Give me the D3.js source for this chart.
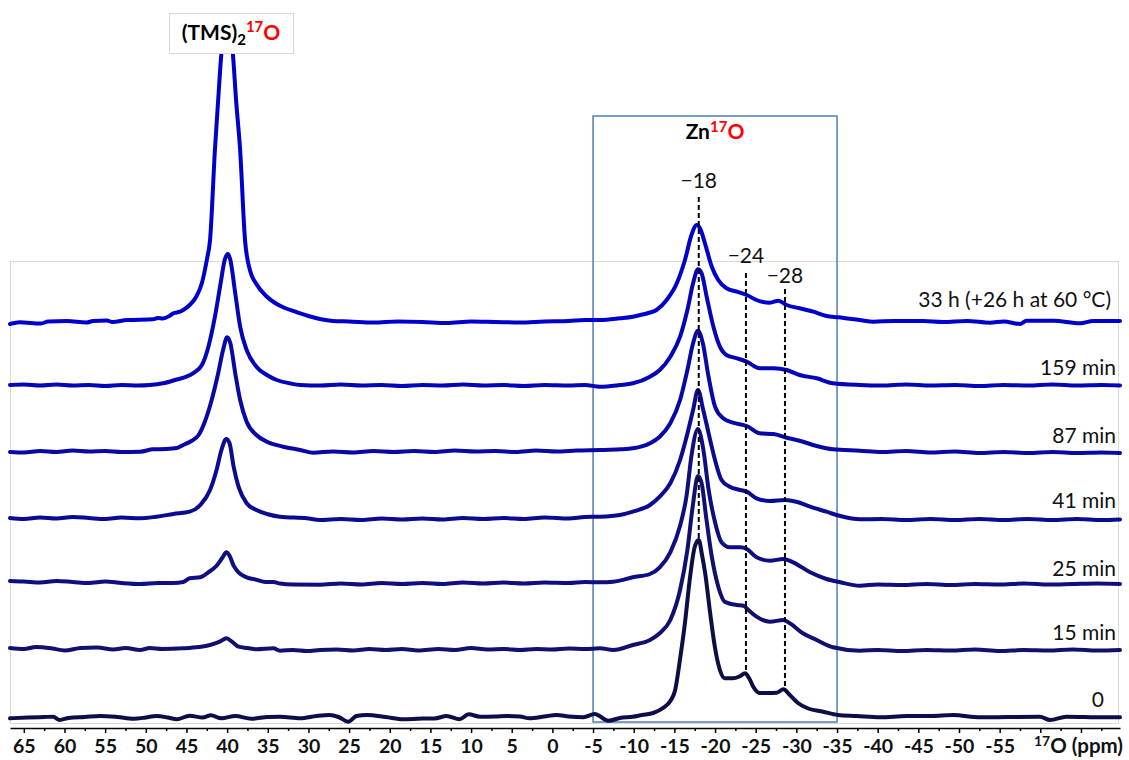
<!DOCTYPE html>
<html>
<head>
<meta charset="utf-8">
<script src="https://cdn.jsdelivr.net/npm/d3@7"></script>
<style>
  body { margin: 0; background: #fff; }
  svg { display: block; font-family: Lato, "Open Sans", sans-serif; }
</style>
</head>
<body>
<div id="chart"></div>
<script>
// 17O NMR spectra, stacked; each trace is [ppm, intensity]
const traceNames = ["0", "15 min", "25 min", "41 min", "87 min", "159 min", "33 h (+26 h at 60 °C)"];
const traceOffsets = [0, 69, 135, 199, 265, 332, 393];
const traceColors = ["#0d0d47", "#101070", "#0e0e80", "#0b0b92", "#0808a6", "#0404b9", "#0000cc"];

const trace0 = [[66.7,-1.3],[64.5,-0.5],[62.5,0],[61.4,0.3],[60.6,-3],[59.5,-1],[57.5,0],[55.6,1],[53.5,0],[51.5,-1.7],[50,-0.5],[48.7,1],[47.3,-0.5],[46.2,-2.3],[44.6,1.3],[43,-0.5],[42,1.7],[40.7,-1.3],[39,1],[37,-1.7],[35,0],[33.5,0.3],[31,-1.3],[29,1],[27.4,2],[26.3,0],[25.1,-4.7],[24.1,1],[22.8,2],[20.5,0],[18.3,-2.3],[16,-1.5],[14.5,-1.5],[13,1],[11.4,-2.3],[10.3,2.7],[8.9,0.3],[7,0.5],[5.6,1],[4,0.5],[2.8,-1.3],[1,0.5],[-0.5,2],[-2,0.5],[-3.8,-0.3],[-5.2,3],[-6.9,-3.7],[-8.3,-1],[-9.9,0.3],[-11,2],[-12.4,4],[-13.6,9],[-14.5,16],[-15.1,27],[-15.7,58],[-16.3,94],[-16.9,138],[-17.5,170],[-18.0,177],[-18.4,162],[-18.8,143],[-19.4,104],[-20.0,69],[-20.6,47],[-21.2,38.7],[-22.2,38.7],[-23.0,40.5],[-23.7,43.7],[-24.2,38.7],[-24.7,30.3],[-25.5,24],[-26.5,24],[-27.6,24.3],[-28.4,27.7],[-29.2,22],[-30.2,14],[-31.3,9],[-33.3,5.3],[-35.1,2],[-37.4,1],[-40.3,-0.3],[-43.6,1],[-46.5,1],[-49.3,2],[-52.6,-0.3],[-56,0],[-59.95,0.3],[-61.2,-3],[-63.2,0.3],[-67.7,-0.3],[-69.8,-0.3]];

const trace15 = [[66.7,0],[65,-1],[63.5,1],[61.5,-0.5],[60,-2.5],[58,0],[56,0.5],[54,-1.5],[52.5,0],[50.7,-2],[49.5,0],[48,-1],[45.4,-0.3],[43.5,1],[42.1,3],[40.9,6.3],[40.06,9.7],[39.4,6.3],[38.6,1.3],[37.5,0],[36.4,-1.3],[34.3,-0.3],[33.5,-2.7],[31.9,-2],[30.2,-3],[28.6,-2],[26.5,-1.5],[24.5,-2.5],[22.5,-1],[20.5,-2],[18.5,-1],[16.5,-2.5],[14,-1],[12,-2],[10,0],[8,-1.5],[6,-1],[4,-2],[2,-1],[0,-1.5],[-2,-0.5],[-4,-1],[-5.85,-0.3],[-7.5,-2],[-9.9,3],[-12.0,8],[-13.2,14.7],[-14.5,28],[-15.7,58],[-16.6,98],[-17.25,141.3],[-17.9,172],[-18.35,164.7],[-18.9,131.3],[-19.6,91.3],[-20.4,61.3],[-21.2,46.3],[-22.7,43],[-23.5,42.3],[-24.1,38],[-25.1,31.3],[-26.75,26.3],[-28.4,28],[-29.2,24.7],[-30.8,14.7],[-32.5,8],[-34.5,0.7],[-37.8,-2.7],[-40,-2],[-43,-3],[-46,-2],[-49,-2.5],[-52,-1.5],[-55,-3],[-58,-2],[-61,-2.5],[-64,-1.5],[-67,-2.5],[-69.8,-2]];

const trace25 = [[66.7,1],[65,0.5],[63,-0.5],[61,1],[59,0],[57,-1],[55,0.5],[53,-1],[50.7,-2],[48.5,-1],[46.6,-1],[45.4,0],[44.6,3.7],[43.3,4.7],[42.3,9.7],[41.3,16.3],[40.55,24.7],[40.1,29.7],[39.7,26.3],[39.2,16.3],[38.6,9.7],[37.6,4.7],[36.4,2.3],[35.3,0],[34.3,0],[33.5,-1.5],[31.9,-2.5],[28.6,-2.7],[26,-1.5],[23.5,-2.5],[21,-1],[18.5,-2],[16,-1],[13.5,-2],[11,-0.5],[8.5,-1.5],[6,-0.5],[3.5,-1.5],[1,-0.5],[-2,-1],[-4,0],[-5.85,-0.3],[-7.5,0.3],[-9.9,4.7],[-12.0,8],[-13.2,14.7],[-14.5,29.7],[-15.7,56.3],[-16.5,86.3],[-17.1,126.3],[-17.9,153],[-18.55,133],[-19.2,93],[-20.0,59.7],[-20.8,39.7],[-21.8,34.7],[-23.1,34.7],[-23.9,33],[-25.1,24.7],[-26.75,21.3],[-28.4,23],[-29.6,19.7],[-31.7,9.7],[-33.7,3],[-35.4,-0.3],[-37.8,-3.7],[-40,-2.5],[-43,-3],[-46,-2],[-49,-3],[-52,-2],[-55,-2.5],[-58,-1.5],[-61,-2.5],[-64,-2],[-67,-1.5],[-69.8,-2]];

const trace41 = [[66.7,0],[65,-1],[63,0.5],[61,-0.5],[59,1],[57,0],[55,-1],[53,0.5],[50.7,-0.3],[48.7,1.3],[46.6,4],[44.6,6.3],[43.3,13],[42.1,28],[41.3,48],[40.7,68],[40.1,79],[39.7,74.7],[39.2,51.3],[38.6,31.3],[37.6,14.7],[36.4,8],[35.1,4],[33.5,1.3],[30.2,-0.3],[28.6,-2],[26,-1],[23.5,-2],[21,-0.5],[18.5,-1.5],[16,-0.5],[13.5,-1.5],[11,0],[8.5,-1],[6,0],[3.5,-1],[1,0.5],[-2,-0.5],[-4,1],[-5.85,1.3],[-8.3,3],[-9.9,6.3],[-12.0,13],[-13.2,21.3],[-14.5,34.7],[-15.7,58],[-16.4,78],[-17.3,108],[-17.9,128],[-18.55,108],[-19.4,78],[-20.0,58],[-20.8,38],[-21.8,31.3],[-23.1,28],[-23.9,26.3],[-25.1,19.7],[-26.75,17],[-28.6,18],[-30.0,16.3],[-31.7,11.3],[-33.7,6.3],[-35.4,2],[-37.8,-1.3],[-40.5,-1],[-43.5,-2],[-46.5,-1],[-49.5,-2],[-52.5,-1],[-55.5,-2],[-58.5,-1],[-61.5,-2],[-64.5,-1],[-67.5,-2],[-69.8,-1.5]];

const trace87 = [[66.7,0],[65,-0.5],[63,1],[61,0],[59,1.5],[57,0.5],[55,1],[53,0],[50.7,0.3],[49.1,2.7],[47.5,3],[46.2,4],[45.4,7],[44.4,11],[43.5,17],[42.8,29],[41.9,52],[41.1,78.7],[40.5,102],[40.0,114.7],[39.6,108.7],[39.0,78.7],[38.4,52],[37.6,30.3],[36.4,17],[35.1,10.3],[33.1,5.3],[31.0,2],[29.4,-0.7],[27,0.5],[24.5,-0.5],[22,1],[19.5,0],[17,1],[14.5,0],[12,1.5],[9.5,0.5],[7,1],[4.5,0],[2,1.5],[-0.5,0.5],[-3,1.5],[-5.85,2],[-8.3,2.7],[-9.9,3.7],[-12.0,8.7],[-13.2,15.3],[-14.5,28.7],[-15.7,52],[-16.6,82],[-17.3,108.7],[-17.9,121.3],[-18.5,108.7],[-19.2,75.3],[-20.0,45.3],[-21.0,33.7],[-22.2,29.3],[-23.9,26],[-25.5,18.7],[-27.2,18],[-28.6,14.7],[-30.4,11.3],[-32.5,6],[-34.5,2.7],[-37.8,1.3],[-40.5,0],[-43.5,1],[-46.5,-0.5],[-49.5,0.5],[-52.5,-1],[-55.5,0],[-58.5,-1],[-61.5,0],[-64.5,-1],[-67.5,-0.5],[-69.8,-1]];

const trace159 = [[66.7,0],[65,0.5],[63,-0.5],[61,0.5],[59,-0.5],[57,0],[55,-1],[53,0],[51,-0.5],[49.5,0],[47.9,1.7],[46.2,5.5],[45.0,8.3],[44.2,11.7],[43.1,20],[42.3,38.3],[41.5,68.3],[40.8,101.7],[40.3,125],[39.9,131],[39.6,125],[39.0,91.7],[38.4,58.3],[37.6,35],[36.4,18.3],[35.1,10],[33.9,5],[32.3,1.7],[31.0,0],[28.5,-0.5],[26,0.5],[23.5,-0.5],[21,0],[18.5,-1],[16,0],[13.5,-0.5],[11,0.5],[8.5,-0.5],[6,0],[3.5,-1],[1,0],[-2,-0.5],[-4,0],[-5.85,-1.7],[-8.3,0],[-9.9,1.7],[-12.0,8.3],[-13.2,15],[-14.5,28.3],[-15.7,48.3],[-16.6,75],[-17.3,101.7],[-17.9,115.7],[-18.35,111.7],[-18.97,88.3],[-19.8,58.3],[-20.6,38.3],[-21.4,30],[-22.7,26.7],[-23.9,23.3],[-25.5,16.7],[-27.2,16.7],[-28.8,15],[-30.4,10],[-32.5,6.7],[-34.5,1.7],[-37.8,0],[-40.5,-0.5],[-43.5,0.5],[-46.5,-0.5],[-49.5,0],[-52.5,-1],[-55.5,0],[-58.5,-0.5],[-61.5,0.5],[-64.5,-0.5],[-67.5,0],[-69.8,-0.5]];

const trace33h = [[66.7,0],[65.5,1.7],[62.9,0.5],[62.0,2.5],[59.7,3],[57.3,1.5],[56.5,3],[54.8,3.5],[54.1,2],[52.3,4],[49.1,4.7],[48.5,6],[47.9,5.5],[47.05,8.3],[46.6,10.7],[45.8,12.3],[45.4,14],[44.6,19],[43.8,27.3],[43.1,41],[42.5,64],[42.1,84],[41.5,174],[41.1,224],[40.7,271],[40.0,305],[39.3,271],[38.9,224],[38.4,174],[37.8,84],[37.2,54],[36.4,40],[35.2,28],[34.1,21],[32.9,16],[31.5,12],[30,8],[28.6,5],[27,3],[25,2.5],[22,1.5],[19,2.5],[16,2],[13,1],[10,2.5],[7,2],[4,1.5],[1,2.5],[-2,3],[-4,4],[-5.85,4],[-8.3,5.7],[-9.9,7.3],[-10.8,9],[-11.8,11],[-12.8,14],[-14.05,24],[-15.3,40.7],[-16.3,64],[-17.1,89],[-17.75,99],[-18.15,95.7],[-18.76,80.7],[-19.6,57.3],[-20.4,44],[-21.4,35.7],[-22.7,32.3],[-23.9,29],[-25.1,24],[-26.75,21.3],[-27.8,23.3],[-28.8,19],[-30.4,15.7],[-32.1,12.3],[-33.7,8],[-35.15,6.7],[-37.8,4],[-39.5,2.3],[-42,3],[-45.6,3],[-48,2],[-51,3],[-53.8,1.3],[-55.5,2.5],[-57.5,0],[-58.3,3.3],[-61.6,3.3],[-64.9,0.7],[-66.5,3],[-69.8,3]];

const traces = [trace0, trace15, trace25, trace41, trace87, trace159, trace33h];

const majorTicks = [65, 60, 55, 50, 45, 40, 35, 30, 25, 20, 15, 10, 5, 0, -5, -10, -15, -20, -25, -30, -35, -40, -45, -50, -55, -60, -65];
const tickLabels = ["65","60","55","50","45","40","35","30","25","20","15","10","5","0","-5","-10","-15","-20","-25","-30","-35","-40","-45","-50","-55","",""];
const minorTicks = d3.range(62.5, -68, -5);

const markPpm = [-18, -23.8, -28.6];
const markLabels = ["\u221218", "\u221224", "\u221228"];
const boxPpm = [-5, -35];

const width = 1129;
const height = 760;

const svg = d3.select("#chart")
              .append("svg")
              .attr("width", width)
              .attr("height", height);

const x = d3.scaleLinear()
            .domain([66.7, -69.8])
            .range([10, 1120]);

// intensity units, trace 0 baseline at 0
const y = d3.scaleLinear()
            .domain([0, 717])
            .range([717, 0]);

// plot area frame
svg.append("rect")
   .attr("x", 10.5).attr("y", 261.5)
   .attr("width", 1108).attr("height", 462)
   .attr("fill", "none")
   .attr("stroke", "#d9d9d9")
   .attr("stroke-width", 1);

// ZnO region box
svg.append("rect")
   .attr("x", x(boxPpm[0]))
   .attr("y", 116)
   .attr("width", x(boxPpm[1]) - x(boxPpm[0]))
   .attr("height", 606)
   .attr("fill", "none")
   .attr("stroke", "#4f7fb4")
   .attr("stroke-width", 1.5);

const line = d3.line().curve(d3.curveMonotoneX);

svg.append("g")
   .selectAll("path")
   .data(traces)
   .enter()
   .append("path")
   .attr("d", (t, i) => line(t.map(p => [x(p[0]), y(traceOffsets[i] + p[1])])))
   .attr("fill", "none")
   .attr("stroke", (t, i) => traceColors[i])
   .attr("stroke-width", 4)
   .attr("stroke-linejoin", "round")
   .attr("stroke-linecap", "round");

// dashed markers, bottom lands on the t = 0 trace
const valueAt = (t, ppm) => {
  const xs = t.map(p => -p[0]);
  const i = d3.bisectLeft(xs, -ppm);
  const a = t[i - 1], b = t[i];
  return a[1] + (b[1] - a[1]) * (ppm - a[0]) / (b[0] - a[0]);
};
const markTop = [520, 444, 428];
const labelGap = [9, 10, 6];

svg.append("g")
   .selectAll("line")
   .data(markPpm)
   .enter()
   .append("line")
   .attr("x1", d => x(d)).attr("x2", d => x(d))
   .attr("y1", (d, i) => y(markTop[i]))
   .attr("y2", d => y(valueAt(trace0, d)))
   .attr("stroke", "#000")
   .attr("stroke-width", 2)
   .attr("stroke-dasharray", "5,3");

svg.append("g")
   .selectAll("text")
   .data(markLabels)
   .enter()
   .append("text")
   .attr("x", (d, i) => x(markPpm[i]))
   .attr("y", (d, i) => y(markTop[i]) - labelGap[i])
   .attr("text-anchor", "middle")
   .style("font-size", "21px")
   .attr("fill", "#111")
   .text(d => d);

// series labels on the right
const labelLift = [10, 8, 6, 10, 9, 10, 17];
const labelRight = [1104, 1116, 1116, 1116, 1116, 1116, 1111];
svg.append("g")
   .selectAll("text")
   .data(traceNames)
   .enter()
   .append("text")
   .attr("x", (d, i) => labelRight[i])
   .attr("y", (d, i) => y(traceOffsets[i] + labelLift[i]))
   .attr("text-anchor", "end")
   .style("font-size", "21px")
   .attr("fill", "#111")
   .text(d => d);

// ZnO title
const zn = svg.append("text")
              .attr("x", 715).attr("y", 139)
              .attr("text-anchor", "middle")
              .style("font-size", "21px")
              .style("font-weight", "bold");
zn.append("tspan").text("Zn");
zn.append("tspan").attr("fill", "#ff0000").attr("dy", -7).style("font-size", "15px").text("17");
zn.append("tspan").attr("fill", "#ff0000").attr("dy", 7).text("O");

// (TMS)2 17O label box, covers the clipped peak top
svg.append("rect")
   .attr("x", 169.5).attr("y", 13.5)
   .attr("width", 124).attr("height", 40)
   .attr("fill", "#fff")
   .attr("stroke", "#d9d9d9");
const tms = svg.append("text")
               .attr("x", 231).attr("y", 40)
               .attr("text-anchor", "middle")
               .style("font-size", "21px")
               .style("font-weight", "bold");
tms.append("tspan").text("(TMS)");
tms.append("tspan").attr("dy", 5).style("font-size", "15px").text("2");
tms.append("tspan").attr("fill", "#ff0000").attr("dy", -13).style("font-size", "15px").text("17");
tms.append("tspan").attr("fill", "#ff0000").attr("dy", 8).text("O");

// axis
const xAxis = d3.axisBottom(x)
                .tickValues(majorTicks)
                .tickFormat((d, i) => tickLabels[i])
                .tickSize(5)
                .tickSizeOuter(0);
const minorAxis = d3.axisBottom(x)
                    .tickValues(minorTicks)
                    .tickFormat("")
                    .tickSize(3);

const ax = svg.append("g")
              .attr("transform", "translate(0,728)")
              .call(xAxis);
ax.select(".domain").attr("stroke-width", 1.5);
ax.selectAll(".tick line").attr("stroke-width", 1.5);
ax.selectAll(".tick text")
  .attr("y", 25).attr("dy", null)
  .style("font-family", "Lato, 'Open Sans', sans-serif")
  .style("font-size", "19.5px")
  .style("font-weight", "bold")
  .attr("fill", "#111");

const mx = svg.append("g")
              .attr("transform", "translate(0,728)")
              .call(minorAxis);
mx.select(".domain").remove();
mx.selectAll(".tick line").attr("stroke-width", 1.5);

const at = svg.append("text")
              .attr("x", 1123).attr("y", 753)
              .attr("text-anchor", "end")
              .style("font-size", "20.5px")
              .style("font-weight", "bold")
              .attr("fill", "#111");
at.append("tspan").attr("dy", -7).style("font-size", "14px").text("17");
at.append("tspan").attr("dy", 7).text("O (ppm)");
</script>
</body>
</html>
